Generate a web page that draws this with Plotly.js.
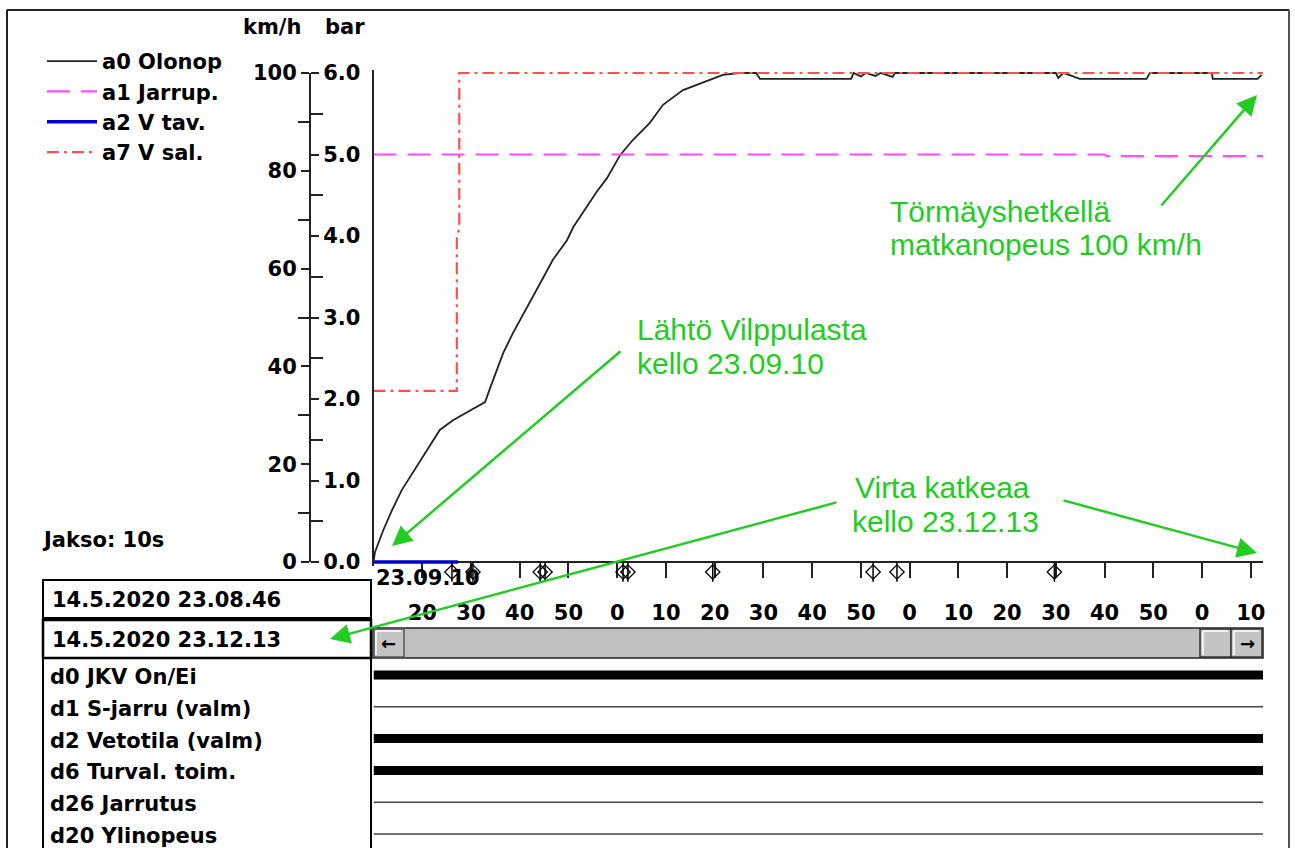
<!DOCTYPE html>
<html>
<head>
<meta charset="utf-8">
<script src="https://cdn.plot.ly/plotly-3.0.1.min.js"></script>
<style>html,body{margin:0;padding:0;background:#fff;}#chart{width:1295px;height:848px;}</style>
</head>
<body>
<div id="chart"></div>
<script>
// ---------------- DATA ----------------
// time in seconds after 23.09.10
const speedT = [0, 0.3, 2, 3.8, 5.8, 7.5, 9.9, 12, 13.6, 16.3, 19.2, 22.9, 23.9, 24.5, 26.6, 28.6, 32.1, 34.2, 36.8, 39.7, 41, 43, 45.8, 47.9, 50.6, 53.2, 56.7, 59.4, 63.5, 69, 71.7, 75, 77.8, 78.5, 79.3, 98, 98.5, 100, 101, 103, 104, 106.5, 107, 140, 140.5, 141.5, 143, 144.9, 158.6, 159.3, 172, 172.2, 181.4, 182.2];
const speedKmh = [0, 2, 6.5, 10.6, 14.7, 17.4, 21.3, 24.5, 27, 29, 30.7, 32.7, 35.5, 37.2, 42.7, 46.8, 53, 57, 61.8, 65.8, 68.5, 71.6, 75.7, 78.5, 83.2, 86.3, 89.8, 93.5, 96.5, 98.6, 99.6, 100, 100, 100, 98.8, 98.8, 100, 99.3, 100, 99.4, 100, 99.2, 100, 100, 99, 100, 99.5, 98.8, 98.8, 100, 100, 98.8, 98.8, 99.6];
const brakeT = [0, 150, 150.5, 182.5];
const brakeBar = [5.0, 5.0, 4.98, 4.98];
const targetT = [0, 17.3];
const targetKmh = [0, 0];
const limitT = [0, 17.1, 17.1, 17.6, 17.6, 182.5];
const limitKmh = [35, 35, 67, 68, 100, 100];
const eventT = [16.1, 20.4, 34.2, 35.2, 51.2, 52.2, 69.6, 102.5, 107.4, 139.7];
const seriesNames = ["a0 Olonop", "a1 Jarrup.", "a2 V tav.", "a7 V sal."];
const tickSeconds = [10, 20, 30, 40, 50, 60, 70, 80, 90, 100, 110, 120, 130, 140, 150, 160, 170, 180];
const tickLabels = ["20", "30", "40", "50", "0", "10", "20", "30", "40", "50", "0", "10", "20", "30", "40", "50", "0", "10"];
const startLabel = "23.09.10";
const timeRange = [0, 182.5];
const digitalNames = ["d0 JKV On/Ei", "d1 S-jarru (valm)", "d2 Vetotila (valm)", "d6 Turval. toim.", "d26 Jarrutus", "d20 Ylinopeus"];
const digitalStates = [1, 0, 1, 1, 0, 0];
const digitalT = [0, 182.5];
const startStamp = "14.5.2020 23.08.46";
const endStamp = "14.5.2020 23.12.13";

// ---------------- LAYOUT HELPERS ----------------
const W = 1295, H = 848;
const px = x => x / W;
const py = y => 1 - y / H;
const F = {family: "DejaVu Sans", size: 21, color: "#000", weight: "bold"};
const G = "#22cc22";
const GF = {family: "Liberation Sans, Arial", size: 30, color: G};

const y0px = 562, y100px = 73, kpx = (y0px - y100px) / 100;
const dataRange = [-0.8, 100.6];
const dataDom = [py(y0px - dataRange[0] * kpx), py(y0px - dataRange[1] * kpx)];
const xDom = [px(373.5), px(1263)];

const traces = [];
traces.push({x: speedT, y: speedKmh, name: seriesNames[0], type: "scatter", mode: "lines",
  line: {color: "#222", width: 1.8}, xaxis: "x", yaxis: "y"});
traces.push({x: brakeT, y: brakeBar, name: seriesNames[1], type: "scatter", mode: "lines",
  line: {color: "#ff4dff", width: 2.2, dash: "23px,11px"}, xaxis: "x", yaxis: "y2"});
traces.push({x: targetT, y: targetKmh, name: seriesNames[2], type: "scatter", mode: "lines",
  line: {color: "#0000cc", width: 3.5}, xaxis: "x", yaxis: "y"});
traces.push({x: limitT, y: limitKmh, name: seriesNames[3], type: "scatter", mode: "lines",
  line: {color: "#ff5050", width: 2.2, dash: "12px,5px,3px,5px"}, xaxis: "x", yaxis: "y"});
// event markers in a thin strip under the time axis
traces.push({x: eventT, y: eventT.map(() => 0.5), type: "scatter", mode: "markers", showlegend: false,
  hoverinfo: "skip", xaxis: "x", yaxis: "y6",
  marker: {symbol: "diamond-open", size: 11, color: "#000", line: {width: 1.3, color: "#000"}}});
traces.push({x: eventT, y: eventT.map(() => 0.5), type: "scatter", mode: "markers", showlegend: false,
  hoverinfo: "skip", xaxis: "x", yaxis: "y6",
  marker: {symbol: "line-ns-open", size: 14, color: "#000", line: {width: 1.5, color: "#000"}}});
// the km/h tick axis carries an (empty-looking) copy of V tav so that it is built
traces.push({x: targetT, y: targetKmh, type: "scatter", mode: "lines", showlegend: false, hoverinfo: "skip",
  line: {color: "rgba(0,0,0,0)", width: 0}, xaxis: "x", yaxis: "y4"});
// digital channels
digitalNames.forEach((n, i) => {
  traces.push({x: digitalT, y: digitalT.map(() => i), type: "scatter", mode: "lines", showlegend: false,
    hoverinfo: "skip", xaxis: "x", yaxis: "y3",
    line: {color: digitalStates[i] ? "#000" : "#444", width: digitalStates[i] ? 9 : 1.6}});
});

const shapes = [];
const rect = (x0, y0, x1, y1, fill, lc, lw) => shapes.push({type: "rect", xref: "paper", yref: "paper",
  x0: px(x0), x1: px(x1), y0: py(y1), y1: py(y0), fillcolor: fill, line: {color: lc, width: lw}, layer: "below"});
const line = (x0, y0, x1, y1, lc, lw) => shapes.push({type: "line", xref: "paper", yref: "paper",
  x0: px(x0), x1: px(x1), y0: py(y0), y1: py(y1), line: {color: lc, width: lw}, layer: "below"});
// outer frame
line(7, 10, 1289, 10, "#222", 2);
line(7, 10, 7, 848, "#222", 2);
line(1289, 10, 1289, 848, "#555", 2);
// time stamp boxes
rect(43, 580, 371, 618, "rgba(0,0,0,0)", "#000", 2);
rect(43, 620, 371, 658, "rgba(0,0,0,0)", "#000", 2.5);
line(43, 658, 43, 848, "#000", 2);
line(371, 658, 371, 848, "#000", 2);
// scrollbar
rect(373, 628, 1263, 658, "#c0c0c0", "#222", 1.5);
rect(374, 629, 404, 657, "#c4c4c4", "#555", 1.5);
rect(1200, 629, 1231, 657, "#c4c4c4", "#333", 1.5);
rect(1231, 629, 1262, 657, "#c4c4c4", "#333", 1.5);
line(376, 631, 401, 631, "#fff", 1.5);
line(376, 631, 376, 655, "#fff", 1.5);
line(1234, 631, 1259, 631, "#fff", 1.5);
line(1234, 631, 1234, 655, "#fff", 1.5);
line(1203, 631, 1228, 631, "#fff", 1.5);
line(1203, 631, 1203, 655, "#fff", 1.5);

const ann = [];
const txt = (t, x, y, xa, font, extra) => ann.push(Object.assign({text: t, xref: "paper", yref: "paper",
  x: px(x), y: py(y), xanchor: xa, yanchor: "middle", showarrow: false, font: font}, extra || {}));
txt("km/h", 303, 27, "right", F);
txt("bar", 323, 27, "left", F);
txt("Jakso: 10s", 40, 540, "left", F);
txt(startStamp, 50, 600, "left", F);
txt(endStamp, 50, 640, "left", F);
txt(startLabel, 374, 578, "left", F);
txt("\u2190", 389, 643, "center", {family: "DejaVu Sans", size: 18, color: "#000", weight: "bold"});
txt("\u2192", 1247, 643, "center", {family: "DejaVu Sans", size: 18, color: "#000", weight: "bold"});
digitalNames.forEach((n, i) => ann.push({text: n, xref: "paper", yref: "y3", x: px(48), y: i, yshift: -2,
  xanchor: "left", yanchor: "middle", showarrow: false, font: F}));
// green notes
txt("Törmäyshetkellä", 888, 211, "left", GF);
txt("matkanopeus 100 km/h", 888, 245, "left", GF);
txt("Lähtö Vilppulasta", 635, 329, "left", GF);
txt("kello 23.09.10", 635, 363, "left", GF);
txt("Virta katkeaa", 853, 487, "left", GF);
txt("kello 23.12.13", 850, 521, "left", GF);
const arrow = (hx, hy, tx, ty) => ann.push({text: "", xref: "paper", yref: "paper", x: px(hx), y: py(hy),
  ax: tx - hx, ay: ty - hy, showarrow: true, arrowhead: 2, arrowsize: 1.6, arrowwidth: 2.5, arrowcolor: G});
arrow(1257, 95, 1160, 207);
arrow(392, 546, 622, 350);
arrow(1257, 553, 1062, 500);
arrow(330, 639, 838, 502);

const layout = {
  width: W, height: H, margin: {l: 0, r: 0, t: 0, b: 0},
  paper_bgcolor: "#fff", plot_bgcolor: "rgba(0,0,0,0)",
  showlegend: true,
  legend: {x: px(42), y: py(41), xanchor: "left", yanchor: "top", bgcolor: "rgba(0,0,0,0)",
    borderwidth: 0, font: F, traceorder: "normal", itemwidth: 50},
  xaxis: {domain: xDom, range: timeRange, anchor: "free", position: py(y0px),
    showline: true, linecolor: "#222", linewidth: 2, layer: "below traces",
    tickvals: tickSeconds, ticktext: tickLabels, ticks: "outside", ticklen: 15, tickwidth: 2,
    tickcolor: "#222", tickfont: F, ticklabelstandoff: 17, showgrid: false, zeroline: false, fixedrange: true},
  yaxis: {domain: dataDom, range: dataRange, anchor: "x", showline: true, linecolor: "#222", linewidth: 2,
    showticklabels: false, ticks: "", showgrid: false, zeroline: false, fixedrange: true},
  yaxis4: {domain: [py(y0px), py(y100px)], range: [0, 100], anchor: "free", position: px(310), side: "left",
    showline: true, linecolor: "#222", linewidth: 2, ticks: "outside", ticklen: 8, tickwidth: 2, tickcolor: "#222",
    dtick: 20, tick0: 0, tickfont: F, showgrid: false, zeroline: false, fixedrange: true,
    minor: {dtick: 10, ticks: "outside", ticklen: 11, tickwidth: 2, tickcolor: "#222", showgrid: false}},
  yaxis2: {overlaying: "y4", range: [0, 6], anchor: "free", position: px(310), side: "right",
    showline: true, linecolor: "#222", linewidth: 2, ticks: "outside", ticklen: 8, tickwidth: 2, tickcolor: "#222",
    dtick: 1, tick0: 0, tickformat: ".1f", tickfont: F, showgrid: false, zeroline: false, fixedrange: true,
    minor: {dtick: 0.5, ticks: "outside", ticklen: 12, tickwidth: 2, tickcolor: "#222", showgrid: false}},
  yaxis6: {domain: [py(582), py(562)], range: [0, 1], anchor: "x", visible: false, fixedrange: true},
  yaxis3: {domain: [0, py(660)], range: [5.44, -0.47], anchor: "x", visible: false, fixedrange: true},
  shapes: shapes, annotations: ann
};
Plotly.newPlot("chart", traces, layout, {staticPlot: true, displayModeBar: false});
</script>
</body>
</html>
